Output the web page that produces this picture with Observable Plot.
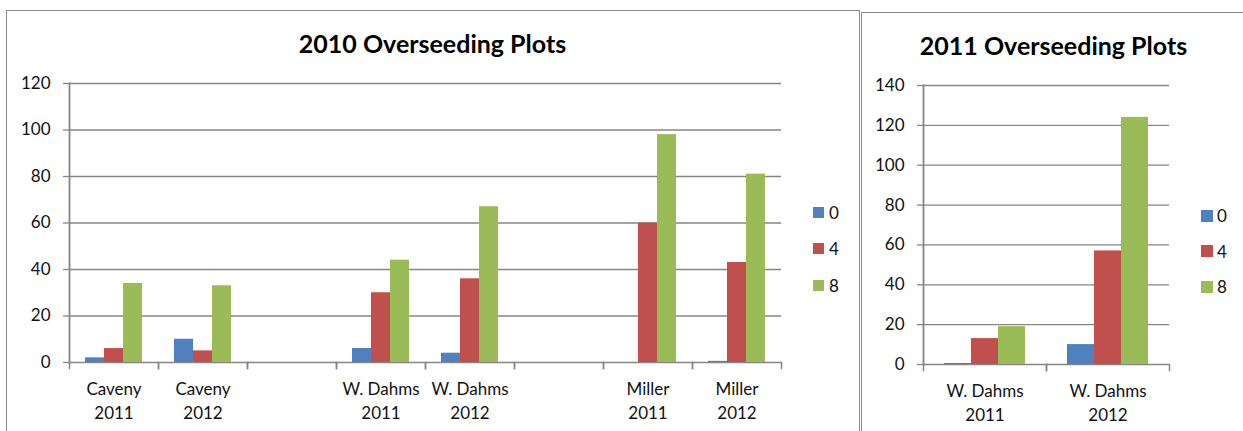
<!DOCTYPE html>
<html><head><meta charset="utf-8">
<script src="https://cdn.jsdelivr.net/npm/d3@7"></script>
<script src="https://cdn.jsdelivr.net/npm/@observablehq/plot@0.6"></script>
<style>
body{margin:0;background:#fff;font-family:Lato,"Open Sans",sans-serif;}
#page{position:relative;width:1243px;height:431px;overflow:hidden;background:#fff;}
.box{position:absolute;border:1.5px solid #8c8c8c;box-sizing:border-box;}
.title{position:absolute;font-weight:bold;font-size:25px;line-height:25px;color:#000;white-space:nowrap;transform:translateX(-50%);}
.chart{position:absolute;top:0;}
.legend{position:absolute;font-size:17px;color:#111;}
.legend .item{display:flex;align-items:center;}
.legend .sw{flex:none;}
</style></head>
<body><div id="page"></div>
<script>
// ---- data ----
const series = ["0", "4", "8"];
const seriesColors = ["#4F81BD", "#C0504D", "#9BBB59"];

const title2010 = "2010 Overseeding Plots";
const cats2010 = ["Caveny 2011", "Caveny 2012", "gap1", "W. Dahms 2011", "W. Dahms 2012", "gap2", "Miller 2011", "Miller 2012"];
const s0_2010 = [2, 10, null, 6, 4, null, 0, 0.5];
const s4_2010 = [6, 5, null, 30, 36, null, 60, 43];
const s8_2010 = [34, 33, null, 44, 67, null, 98, 81];
const yTicks2010 = [0, 20, 40, 60, 80, 100, 120];

const title2011 = "2011 Overseeding Plots";
const cats2011 = ["W. Dahms 2011", "W. Dahms 2012"];
const s0_2011 = [0.5, 10];
const s4_2011 = [13, 57];
const s8_2011 = [19, 124];
const yTicks2011 = [0, 20, 40, 60, 80, 100, 120, 140];

// ---- helpers ----
const page = document.getElementById("page");
const gray = "#868686";

function fmtCat(d) {
  if (d.startsWith("gap")) return "";
  return d.replace(/ (\d{4})$/, "\n$1");
}

function makeChart(o) {
  const vals = [o.s0, o.s4, o.s8];
  const data = [];
  o.cats.forEach((c, i) => series.forEach((s, j) => {
    const v = vals[j][i];
    if (v != null) data.push({cat: c, series: s, value: v});
  }));
  const gridData = [];
  o.cats.forEach(c => o.ticks.forEach(t => gridData.push({cat: c, tick: t})));
  const plotH = o.height - o.marginTop - o.marginBottom;
  const svg = Plot.plot({
    width: o.width, height: o.height,
    marginLeft: o.marginLeft, marginRight: o.marginRight,
    marginTop: o.marginTop, marginBottom: o.marginBottom,
    style: {fontFamily: "Lato", fontSize: "17px", color: "#111", background: "transparent", overflow: "visible"},
    fx: {domain: o.cats, padding: 0, label: null, axis: null},
    x: {domain: series, paddingInner: 0, paddingOuter: o.outer, axis: null},
    y: {domain: [o.ticks[0], o.ticks[o.ticks.length - 1]], axis: null},
    color: {domain: series, range: seriesColors},
    marks: [
      Plot.ruleY(gridData, {fx: "cat", y: "tick", stroke: gray, strokeWidth: 1.3}),
      Plot.barY(data, {fx: "cat", x: "series", y: "value", fill: "series"}),
      Plot.frame({anchor: "left", stroke: gray, strokeWidth: 1.5, insetTop: plotH, insetBottom: -6}),
      Plot.frame({anchor: "right", stroke: gray, strokeWidth: 1.5, insetTop: plotH, insetBottom: -6}),
      Plot.frame({anchor: "left", facet: "super", stroke: gray, strokeWidth: 1.8}),
      Plot.axisY(o.ticks, {tickSize: 6, tickPadding: 13, stroke: gray, strokeWidth: 1.3, fill: "#111", label: null}),
      Plot.axisFx({anchor: "bottom", tickSize: 0, tickPadding: 16, lineHeight: 1.38, tickFormat: fmtCat, fill: "#111", label: null})
    ]
  });
  svg.classList.add("chart");
  svg.style.left = o.left + "px";
  page.appendChild(svg);
}

function addBox(left, top, w, h) {
  const d = document.createElement("div");
  d.className = "box";
  Object.assign(d.style, {left: left + "px", top: top + "px", width: w + "px", height: h + "px"});
  page.appendChild(d);
}
function addTitle(text, cx, top) {
  const d = document.createElement("div");
  d.className = "title";
  d.textContent = text;
  Object.assign(d.style, {left: cx + "px", top: top + "px"});
  page.appendChild(d);
}
function addLegend(left, top, step, sw, gap) {
  const d = document.createElement("div");
  d.className = "legend";
  Object.assign(d.style, {left: left + "px", top: top + "px"});
  series.forEach((s, i) => {
    const it = document.createElement("div");
    it.className = "item";
    it.style.height = step + "px";
    const q = document.createElement("div");
    q.className = "sw";
    Object.assign(q.style, {width: sw + "px", height: sw + "px", background: seriesColors[i], marginRight: gap + "px"});
    const t = document.createElement("span");
    t.textContent = s;
    it.appendChild(q); it.appendChild(t);
    d.appendChild(it);
  });
  page.appendChild(d);
}

// frames
addBox(6, 10, 854, 440);
addBox(861, 12, 400, 440);

// charts
makeChart({cats: cats2010, s0: s0_2010, s4: s4_2010, s8: s8_2010, ticks: yTicks2010,
  left: 0, width: 860, height: 431, marginLeft: 68, marginRight: 78, marginTop: 83, marginBottom: 69, outer: 0.75});
makeChart({cats: cats2011, s0: s0_2011, s4: s4_2011, s8: s8_2011, ticks: yTicks2011,
  left: 860, width: 383, height: 431, marginLeft: 62, marginRight: 74, marginTop: 85, marginBottom: 67, outer: 0.76});

addTitle(title2010, 432.5, 31);
addTitle(title2011, 1053.5, 33);
addLegend(813, 194, 36.5, 11, 5);
addLegend(1201, 197.75, 35.5, 12, 4);
</script>
</body></html>
